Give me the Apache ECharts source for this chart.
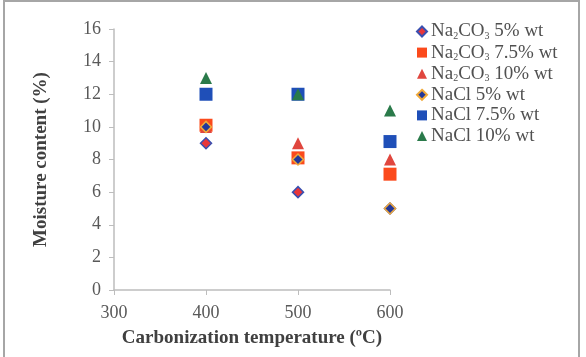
<!DOCTYPE html>
<html>
<head>
<meta charset="utf-8">
<script src="https://cdn.jsdelivr.net/npm/echarts@6/dist/echarts.min.js"></script>
<style>
  html, body { margin: 0; padding: 0; background: #fff; }
  .frame {
    position: absolute; left: 3px; top: 0px; width: 577px; height: 362px;
    border: 2px solid #a6a6a6; box-sizing: border-box;
  }
  .echart { position: absolute; left: 0; top: 0; width: 586px; height: 357px; }
</style>
</head>
<body>
<div class="frame"></div>
<div class="echart" id="chart"></div>
<script>
// 温度
var temps = [400, 500, 600];
var seriesNames = [
  "Na2CO3 5% wt",
  "Na2CO3 7.5% wt",
  "Na2CO3 10% wt",
  "NaCl 5% wt",
  "NaCl 7.5% wt",
  "NaCl 10% wt"
];
var na2co3_5 = [9, 6, 5];
var na2co3_75 = [10.1, 8.1, 7.1];
var na2co3_10 = [10, 9, 8];
var nacl_5 = [10, 8, 5];
var nacl_75 = [12, 12, 9.1];
var nacl_10 = [13, 12, 11];
var xTicks = [300, 400, 500, 600];
var yTicks = [0, 2, 4, 6, 8, 10, 12, 14, 16];

var values = [na2co3_5, na2co3_75, na2co3_10, nacl_5, nacl_75, nacl_10];
var styles = [
  { symbol: "diamond", size: 11, color: "#e8363a", border: "#3a4fb0", bw: 1.5 },
  { symbol: "rect", size: 13, color: "#fb4a1c", border: "#fb4a1c", bw: 0 },
  { symbol: "triangle", size: 12, color: "#e0463e", border: "#e0463e", bw: 0 },
  { symbol: "diamond", size: 11, color: "#23389a", border: "#f0a93a", bw: 1.5 },
  { symbol: "rect", size: 13, color: "#1f4fb8", border: "#1f4fb8", bw: 0 },
  { symbol: "triangle", size: 12, color: "#2a7a4a", border: "#2a7a4a", bw: 0 }
];

var serif = "Liberation Serif";
var chart = echarts.init(document.getElementById("chart"));

var option = {
  animation: false,
  backgroundColor: "transparent",
  grid: { left: 114, right: 196, top: 29, bottom: 67 },
  legend: {
    orient: "vertical",
    left: 411,
    top: 17,
    itemWidth: 10,
    itemHeight: 10,
    itemGap: 1.6,
    data: seriesNames.map(function (n, i) {
      return { name: n, icon: styles[i].symbol };
    }),
    formatter: function (name) {
      if (name.indexOf("Na2CO3") === 0) {
        return "{n|Na}{s|2}{n|CO}{s|3}{n|" + name.slice(6) + "}";
      }
      return "{n|" + name + "}";
    },
    textStyle: {
      padding: [0, 0, 0, -1],
      rich: {
        n: { fontFamily: serif, fontSize: 19, lineHeight: 20, color: "#505050" },
        s: { fontFamily: serif, fontSize: 10, lineHeight: 20, color: "#505050", verticalAlign: "bottom", padding: [8, 0, 0, 0] }
      }
    }
  },
  xAxis: {
    type: "value",
    min: 300,
    max: 600,
    interval: 100,
    name: "Carbonization temperature (ºC)",
    nameLocation: "middle",
    nameGap: 39,
    nameTextStyle: { fontFamily: serif, fontSize: 19, fontWeight: "bold", color: "#404040" },
    axisLine: { show: true, lineStyle: { color: "#bdbdbd", width: 1.5 } },
    axisTick: { show: true, length: 5, lineStyle: { color: "#bdbdbd" } },
    axisLabel: {
      fontFamily: serif, fontSize: 18, color: "#595959", margin: 14,
      formatter: function (v) { return xTicks.indexOf(v) >= 0 ? String(v) : ""; }
    },
    splitLine: { show: false }
  },
  yAxis: {
    type: "value",
    min: 0,
    max: 16,
    interval: 2,
    name: "Moisture content (%)",
    nameLocation: "middle",
    nameGap: 63,
    nameTextStyle: { fontFamily: serif, fontSize: 19, fontWeight: "bold", color: "#404040" },
    axisLine: { show: true, lineStyle: { color: "#bdbdbd", width: 1.5 } },
    axisTick: { show: true, length: 5, lineStyle: { color: "#bdbdbd" } },
    axisLabel: {
      fontFamily: serif, fontSize: 18, color: "#595959", margin: 13,
      formatter: function (v) { return yTicks.indexOf(v) >= 0 ? String(v) : ""; }
    },
    splitLine: { show: false }
  },
  series: seriesNames.map(function (n, i) {
    var s = styles[i];
    return {
      name: n,
      type: "scatter",
      symbol: s.symbol,
      symbolSize: s.size,
      itemStyle: { color: s.color, borderColor: s.border, borderWidth: s.bw, opacity: 1 },
      data: temps.map(function (t, j) { return [t, values[i][j]]; })
    };
  })
};

chart.setOption(option);
window.onresize = function () { chart.resize(); };
</script>
</body>
</html>
